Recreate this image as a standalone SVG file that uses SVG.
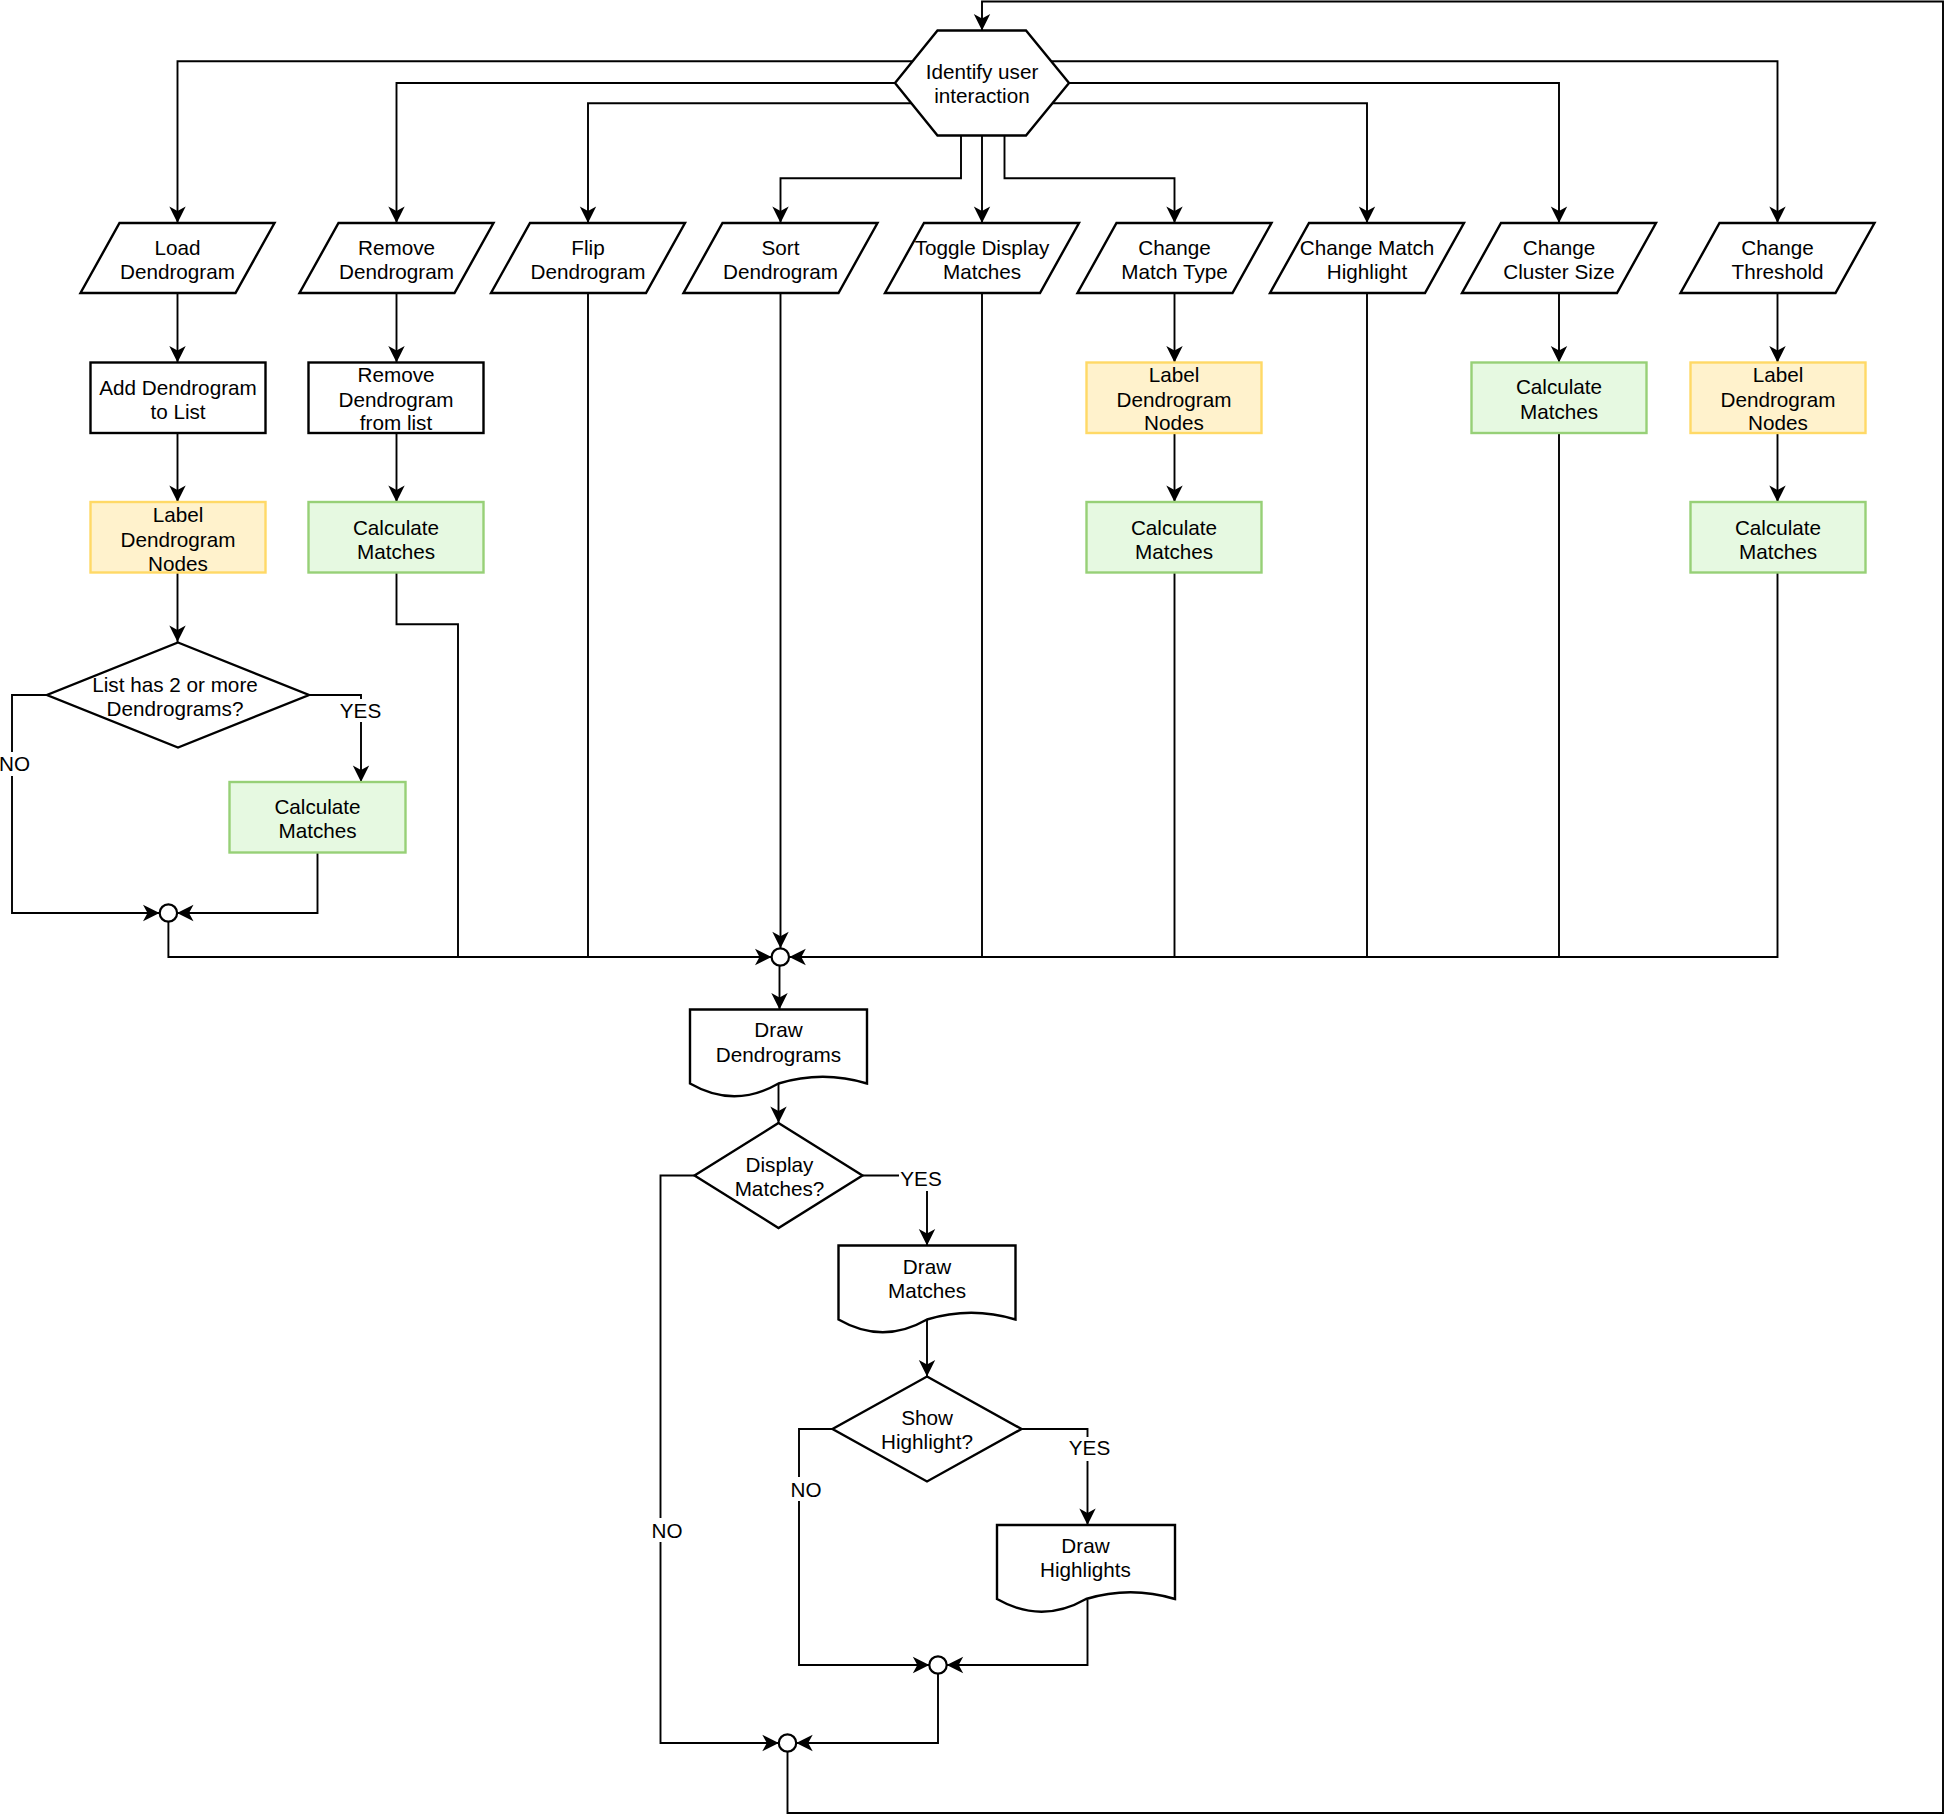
<svg xmlns="http://www.w3.org/2000/svg" width="1945" height="1815" viewBox="0 0 1945 1815">
<defs>
<marker id="arr" markerUnits="userSpaceOnUse" markerWidth="18" markerHeight="18" refX="16.5" refY="8.5" orient="auto" overflow="visible">
<path d="M16.5,8.5 L0,0.3 L4.5,8.5 L0,16.7 Z" fill="#000"/>
</marker>
</defs>
<style>
.c{fill:none;stroke:#000;stroke-width:1.9;marker-end:url(#arr)}
.cn{fill:none;stroke:#000;stroke-width:1.9}
.n{fill:#fff;stroke:#000;stroke-width:2.4}
.y{fill:#fff2cc;stroke:#ffd966;stroke-width:2.4}
.g{fill:#e6f9e1;stroke:#97d077;stroke-width:2.4}
.j{fill:#fff;stroke:#000;stroke-width:2.2}
text{font-family:"Liberation Sans",Arial,Helvetica,sans-serif;font-size:20.7px;text-anchor:middle;fill:#000}
.lb{fill:#fff;stroke:none}
</style>
<rect width="1945" height="1815" fill="#fff"/>
<g id="connectors">
<path class="c" d="M912.6,61.2 H177.5 V223"/>
<path class="c" d="M895,83 H396.5 V223"/>
<path class="c" d="M911.4,103.3 H588 V223"/>
<path class="c" d="M961,135.5 V178.3 H780.5 V223"/>
<path class="c" d="M982,135.5 V223"/>
<path class="c" d="M1004.5,135.5 V178.3 H1174.5 V223"/>
<path class="c" d="M1052.6,103.3 H1367 V223"/>
<path class="c" d="M1069,83 H1559 V223"/>
<path class="c" d="M1051.4,61.2 H1777.5 V223"/>
<path class="c" d="M177.5,293 V362.5"/>
<path class="c" d="M177.5,433 V502"/>
<path class="c" d="M177.5,573 V642"/>
<path class="c" d="M309,695 H361 V782"/>
<path class="c" d="M47,695 H12 V913 H159.5"/>
<path class="c" d="M317.5,852 V913 H177"/>
<path class="c" d="M168.4,921.5 V957 H771.5"/>
<path class="c" d="M396.5,293 V362.5"/>
<path class="c" d="M396.5,433 V502"/>
<path class="cn" d="M396.5,573 V624.3 H458 V957"/>
<path class="cn" d="M588,293 V957"/>
<path class="c" d="M780.5,293 V948.3"/>
<path class="cn" d="M982,293 V957"/>
<path class="c" d="M1174.5,293 V362.5"/>
<path class="c" d="M1174.5,433 V502"/>
<path class="cn" d="M1174.5,573 V957"/>
<path class="cn" d="M1367,293 V957"/>
<path class="c" d="M1559,293 V362.5"/>
<path class="cn" d="M1559,433 V957"/>
<path class="c" d="M1777.5,293 V362.5"/>
<path class="c" d="M1777.5,433 V502"/>
<path class="c" d="M1777.5,573 V957 H789.3"/>
<path class="c" d="M779.5,965.7 V1009.5"/>
<path class="c" d="M778.5,1083.5 V1123"/>
<path class="c" d="M862.5,1175.5 H927 V1245.5"/>
<path class="c" d="M927,1319.5 V1376.5"/>
<path class="c" d="M832.5,1429 H799 V1665 H929.3"/>
<path class="c" d="M1021.5,1429 H1087.5 V1525"/>
<path class="c" d="M1087.5,1600 V1665 H946.7"/>
<path class="c" d="M938,1673.7 V1743 H796.2"/>
<path class="c" d="M694.5,1175.5 H660.5 V1743 H778.8"/>
<path class="c" d="M787.5,1751.7 V1813 H1943 V1.5 H982 V30.5"/>
</g>
<g id="identify">
<polygon class="n" points="895,83 937.5,30.5 1026,30.5 1069,83 1026,135.5 937.5,135.5"/>
<text x="982" y="79">Identify user</text>
<text x="982" y="103">interaction</text>
</g>
<g id="load-dendrogram">
<polygon class="n" points="119.5,223 274.5,223 235.5,293 80.5,293"/>
<text x="177.5" y="254.5">Load</text>
<text x="177.5" y="279">Dendrogram</text>
</g>
<g id="remove-dendrogram">
<polygon class="n" points="338.5,223 493.5,223 454.5,293 299.5,293"/>
<text x="396.5" y="254.5">Remove</text>
<text x="396.5" y="279">Dendrogram</text>
</g>
<g id="flip-dendrogram">
<polygon class="n" points="530,223 685,223 646,293 491,293"/>
<text x="588" y="254.5">Flip</text>
<text x="588" y="279">Dendrogram</text>
</g>
<g id="sort-dendrogram">
<polygon class="n" points="722.5,223 877.5,223 838.5,293 683.5,293"/>
<text x="780.5" y="254.5">Sort</text>
<text x="780.5" y="279">Dendrogram</text>
</g>
<g id="toggle-display">
<polygon class="n" points="924,223 1079,223 1040,293 885,293"/>
<text x="982" y="254.5">Toggle Display</text>
<text x="982" y="279">Matches</text>
</g>
<g id="change-match-type">
<polygon class="n" points="1116.5,223 1271.5,223 1232.5,293 1077.5,293"/>
<text x="1174.5" y="254.5">Change</text>
<text x="1174.5" y="279">Match Type</text>
</g>
<g id="change-match-highlight">
<polygon class="n" points="1309,223 1464,223 1425,293 1270,293"/>
<text x="1367" y="254.5">Change Match</text>
<text x="1367" y="279">Highlight</text>
</g>
<g id="change-cluster-size">
<polygon class="n" points="1501,223 1656,223 1617,293 1462,293"/>
<text x="1559" y="254.5">Change</text>
<text x="1559" y="279">Cluster Size</text>
</g>
<g id="change-threshold">
<polygon class="n" points="1719.5,223 1874.5,223 1835.5,293 1680.5,293"/>
<text x="1777.5" y="254.5">Change</text>
<text x="1777.5" y="279">Threshold</text>
</g>
<g id="add-to-list">
<rect class="n" x="90.5" y="362.5" width="175" height="70.5"/>
<text x="178" y="394.8">Add Dendrogram</text>
<text x="178" y="419">to List</text>
</g>
<g id="remove-from-list">
<rect class="n" x="308.5" y="362.5" width="175" height="70.5"/>
<text x="396" y="381.8">Remove</text>
<text x="396" y="406.7">Dendrogram</text>
<text x="396" y="430.4">from list</text>
</g>
<g id="label-nodes-cmt">
<rect class="y" x="1086.5" y="362.5" width="175" height="70.5"/>
<text x="1174" y="381.8">Label</text>
<text x="1174" y="406.7">Dendrogram</text>
<text x="1174" y="430.4">Nodes</text>
</g>
<g id="calc-matches-ccs">
<rect class="g" x="1471.5" y="362.5" width="175" height="70.5"/>
<text x="1559" y="394">Calculate</text>
<text x="1559" y="419">Matches</text>
</g>
<g id="label-nodes-ct">
<rect class="y" x="1690.5" y="362.5" width="175" height="70.5"/>
<text x="1778" y="381.8">Label</text>
<text x="1778" y="406.7">Dendrogram</text>
<text x="1778" y="430.4">Nodes</text>
</g>
<g id="label-nodes-load">
<rect class="y" x="90.5" y="502" width="175" height="70.5"/>
<text x="178" y="521.5">Label</text>
<text x="178" y="546.5">Dendrogram</text>
<text x="178" y="570.5">Nodes</text>
</g>
<g id="calc-matches-remove">
<rect class="g" x="308.5" y="502" width="175" height="70.5"/>
<text x="396" y="534.5">Calculate</text>
<text x="396" y="558.5">Matches</text>
</g>
<g id="calc-matches-cmt">
<rect class="g" x="1086.5" y="502" width="175" height="70.5"/>
<text x="1174" y="534.5">Calculate</text>
<text x="1174" y="558.5">Matches</text>
</g>
<g id="calc-matches-ct">
<rect class="g" x="1690.5" y="502" width="175" height="70.5"/>
<text x="1778" y="534.5">Calculate</text>
<text x="1778" y="558.5">Matches</text>
</g>
<g id="list-two-or-more">
<polygon class="n" points="178,642.5 309,695 178,747.5 47,695"/>
<text x="175" y="691.5">List has 2 or more</text>
<text x="175" y="715.8">Dendrograms?</text>
</g>
<g id="calc-matches-load">
<rect class="g" x="229.5" y="782" width="176" height="70.5"/>
<text x="317.5" y="813.5">Calculate</text>
<text x="317.5" y="837.5">Matches</text>
</g>
<g id="junction-1"><circle class="j" cx="168.4" cy="913" r="8.7"/></g>
<g id="junction-2"><circle class="j" cx="780.3" cy="957" r="8.7"/></g>
<g id="draw-dendrograms">
<path class="n" d="M690,1009.5 H867 V1083.5 Q822.75,1070 778.5,1083.5 Q734.25,1109 690,1083.5 Z"/>
<text x="778.5" y="1037">Draw</text>
<text x="778.5" y="1061.5">Dendrograms</text>
</g>
<g id="display-matches">
<polygon class="n" points="778.5,1123 862.5,1175.5 778.5,1228 694.5,1175.5"/>
<text x="779.5" y="1171.5">Display</text>
<text x="779.5" y="1195.5">Matches?</text>
</g>
<g id="draw-matches">
<path class="n" d="M838.5,1245.5 H1015.5 V1319.5 Q971.25,1306 927,1319.5 Q882.75,1345 838.5,1319.5 Z"/>
<text x="927" y="1273.5">Draw</text>
<text x="927" y="1297.5">Matches</text>
</g>
<g id="show-highlight">
<polygon class="n" points="927,1376.5 1021.5,1429 927,1481.5 832.5,1429"/>
<text x="927" y="1425">Show</text>
<text x="927" y="1449.3">Highlight?</text>
</g>
<g id="draw-highlights">
<path class="n" d="M997,1525 H1175 V1599 Q1130.5,1585.5 1086,1599 Q1041.5,1624.5 997,1599 Z"/>
<text x="1085.5" y="1553.2">Draw</text>
<text x="1085.5" y="1577">Highlights</text>
</g>
<g id="junction-3"><circle class="j" cx="938" cy="1665" r="8.7"/></g>
<g id="junction-4"><circle class="j" cx="787.5" cy="1743" r="8.7"/></g>
<g id="edge-labels">
<rect class="lb" x="339" y="699" width="43" height="23"/>
<text x="360.5" y="718.2">YES</text>
<rect class="lb" x="0" y="752" width="30" height="24"/>
<text x="14.5" y="770.5">NO</text>
<rect class="lb" x="899" y="1167" width="44" height="24"/>
<text x="921" y="1185.5">YES</text>
<rect class="lb" x="1068" y="1437" width="43" height="24"/>
<text x="1089.5" y="1454.5">YES</text>
<rect class="lb" x="790" y="1477" width="32" height="24"/>
<text x="806" y="1496.5">NO</text>
<rect class="lb" x="651" y="1518" width="32" height="24"/>
<text x="667" y="1538">NO</text>
</g>
</svg>
